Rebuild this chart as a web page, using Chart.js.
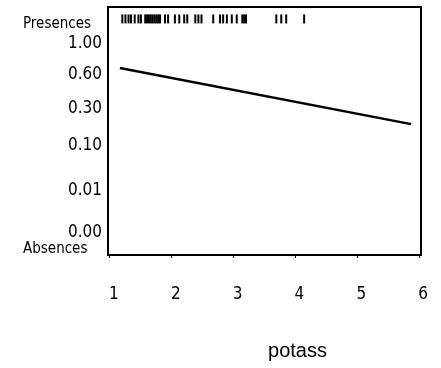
<!DOCTYPE html>
<html>
<head>
<meta charset="utf-8">
<script src="https://cdn.jsdelivr.net/npm/chart.js@4.4.1/dist/chart.umd.min.js"></script>
<style>
  html, body { margin: 0; padding: 0; background: #ffffff; }
  #wrap { width: 441px; height: 368px; }
</style>
</head>
<body>
<div id="wrap"><canvas id="c" width="441" height="368"></canvas></div>
<script>
// ---- data ----
const xTicks = [1, 2, 3, 4, 5, 6];
const xTitle = 'potass';
const yTickLabels = ['1.00', '0.60', '0.30', '0.10', '0.01', '0.00'];
const yTickValues = [1.57, 0.41, -0.85, -2.25, -3.98, -5.55];   // link-scale positions of the labels
const presenceLabel = 'Presences';
const absenceLabel = 'Absences';
const presenceLevel = 2.44;
const presenceLabelLevel = 2.26;
const absenceLabelLevel = -6.26;
// rug of presence observations (potass values)
const presenceX = [1.20, 1.25, 1.30, 1.34, 1.40, 1.46, 1.50, 1.57, 1.60, 1.63, 1.66, 1.69, 1.72, 1.75, 1.78, 1.81,
                   1.89, 1.94, 2.05, 2.12, 2.20, 2.25, 2.38, 2.43, 2.48, 2.67, 2.78, 2.83, 2.89, 2.97, 3.05,
                   3.14, 3.17, 3.20, 3.69, 3.77, 3.85, 4.14];
// fitted logistic line (link scale)
const fitX = [1.16, 5.87];
const fitLink = [0.59, -1.53];

const NARROW = '"Liberation Sans Narrow", "DejaVu Sans Condensed", "Liberation Sans", sans-serif';

const extras = {
  id: 'extras',
  afterDraw(chart) {
    const { ctx, chartArea: a, scales } = chart;
    ctx.save();
    ctx.strokeStyle = '#000';
    ctx.lineWidth = 2;
    ctx.strokeRect(a.left, a.top, a.right - a.left, a.bottom - a.top);
    ctx.fillStyle = '#000';
    ctx.font = '15px ' + NARROW;
    ctx.textAlign = 'left';
    ctx.textBaseline = 'middle';
    ctx.fillText(presenceLabel, 23, scales.y.getPixelForValue(presenceLabelLevel));
    ctx.fillText(absenceLabel, 23, scales.y.getPixelForValue(absenceLabelLevel));
    ctx.font = '20px "Liberation Sans", Arial, sans-serif';
    ctx.textAlign = 'center';
    ctx.textBaseline = 'alphabetic';
    ctx.fillText(xTitle, 297.5, 357);
    ctx.restore();
  }
};

function noPad(s) { s.paddingTop = 0; s.paddingBottom = 0; s.paddingLeft = 0; s.paddingRight = 0; }

new Chart(document.getElementById('c'), {
  type: 'scatter',
  data: {
    datasets: [
      {
        label: 'fit',
        type: 'line',
        data: fitX.map((x, i) => ({ x, y: fitLink[i] })),
        borderColor: '#000',
        borderWidth: 2.5,
        pointRadius: 0,
        fill: false,
        tension: 0
      },
      {
        label: 'presences',
        data: presenceX.map(x => ({ x, y: presenceLevel })),
        pointStyle: 'line',
        rotation: 90,
        radius: 4.5,
        borderWidth: 2,
        borderColor: '#000',
        backgroundColor: '#000'
      }
    ]
  },
  options: {
    responsive: false,
    animation: false,
    events: [],
    layout: { padding: { top: 7, right: 20, left: 0, bottom: 0 } },
    plugins: { legend: { display: false }, tooltip: { enabled: false } },
    scales: {
      x: {
        type: 'linear',
        min: 0.968,
        max: 6.03,
        afterFit(s) { s.height = 113; noPad(s); },
        afterBuildTicks(s) { s.ticks = xTicks.map(v => ({ value: v })); },
        grid: { drawOnChartArea: false, drawTicks: true, tickLength: 3, color: '#000', lineWidth: 1 },
        border: { display: false },
        ticks: {
          color: '#000',
          font: { family: NARROW, size: 17 },
          padding: 26,
          labelOffset: 4,
          maxRotation: 0,
          callback: v => String(v)
        }
      },
      y: {
        type: 'linear',
        min: -6.47,
        max: 2.89,
        afterFit(s) { s.width = 108; noPad(s); },
        afterBuildTicks(s) { s.ticks = yTickValues.map(v => ({ value: v })); },
        grid: { drawOnChartArea: false, drawTicks: false },
        border: { display: false },
        ticks: {
          color: '#000',
          font: { family: NARROW, size: 17 },
          padding: 6,
          labelOffset: 2,
          callback: (v, i) => yTickLabels[i]
        }
      }
    }
  },
  plugins: [extras]
});
</script>
</body>
</html>
